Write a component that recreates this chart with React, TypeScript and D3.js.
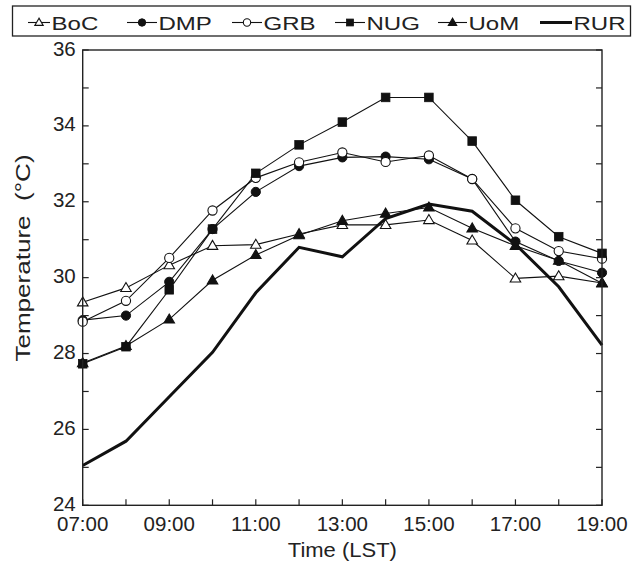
import React from "react";
import * as d3 from "d3";

const hours = [7, 8, 9, 10, 11, 12, 13, 14, 15, 16, 17, 18, 19];
const xTickLabels = ["07:00", "09:00", "11:00", "13:00", "15:00", "17:00", "19:00"];
const yTicks = [24, 26, 28, 30, 32, 34, 36];

const BoC = [29.35, 29.73, 30.33, 30.84, 30.87, 31.15, 31.39, 31.39, 31.52, 30.98, 29.98, 30.04, 29.86];
const DMP = [28.88, 29.0, 29.89, 31.28, 32.26, 32.94, 33.17, 33.19, 33.12, 32.6, 30.95, 30.44, 30.13];
const GRB = [28.84, 29.39, 30.52, 31.77, 32.63, 33.04, 33.3, 33.05, 33.22, 32.6, 31.3, 30.7, 30.5];
const NUG = [27.73, 28.18, 29.68, 31.28, 32.75, 33.5, 34.1, 34.75, 34.75, 33.6, 32.04, 31.08, 30.64];
const UoM = [27.75, 28.2, 28.9, 29.93, 30.6, 31.12, 31.5, 31.69, 31.85, 31.3, 30.84, 30.45, 29.85];
const RUR = [25.05, 25.69, 26.86, 28.03, 29.6, 30.8, 30.55, 31.56, 31.94, 31.75, 30.88, 29.76, 28.22];

type Marker = "triOpen" | "circleFilled" | "circleOpen" | "squareFilled" | "triFilled" | "none";

const seriesList: { name: string; values: number[]; marker: Marker; width: number }[] = [
  { name: "RUR", values: RUR, marker: "none", width: 3 },
  { name: "BoC", values: BoC, marker: "triOpen", width: 1.1 },
  { name: "UoM", values: UoM, marker: "triFilled", width: 1.1 },
  { name: "DMP", values: DMP, marker: "circleFilled", width: 1.1 },
  { name: "GRB", values: GRB, marker: "circleOpen", width: 1.1 },
  { name: "NUG", values: NUG, marker: "squareFilled", width: 1.1 },
];

const legendOrder: { name: string; marker: Marker; x: number; len: number }[] = [
  { name: "BoC", marker: "triOpen", x: 28, len: 22 },
  { name: "DMP", marker: "circleFilled", x: 127, len: 30 },
  { name: "GRB", marker: "circleOpen", x: 232, len: 30 },
  { name: "NUG", marker: "squareFilled", x: 335, len: 30 },
  { name: "UoM", marker: "triFilled", x: 438, len: 29 },
  { name: "RUR", marker: "none", x: 540, len: 32 },
];

const FONT = "'Liberation Sans', Arial, Helvetica, sans-serif";

function MarkerShape({ type, cx, cy, scale = 1 }: { type: Marker; cx: number; cy: number; scale?: number }) {
  const s = scale;
  switch (type) {
    case "triOpen":
    case "triFilled": {
      const h = 9 * s;
      const w = 10.5 * s;
      const pts = `${cx},${cy - h * 0.6} ${cx - w / 2},${cy + h * 0.4} ${cx + w / 2},${cy + h * 0.4}`;
      return (
        <polygon
          points={pts}
          fill={type === "triOpen" ? "#fff" : "#111"}
          stroke="#111"
          strokeWidth={1.1}
        />
      );
    }
    case "circleFilled":
      return <circle cx={cx} cy={cy} r={4.6 * s} fill="#111" stroke="#111" strokeWidth={1} />;
    case "circleOpen":
      return <circle cx={cx} cy={cy} r={4.6 * s} fill="#fff" stroke="#111" strokeWidth={1.1} />;
    case "squareFilled":
      return (
        <rect x={cx - 4.3 * s} y={cy - 4.3 * s} width={8.6 * s} height={8.6 * s} fill="#111" stroke="#111" strokeWidth={0.8} />
      );
    default:
      return null;
  }
}

export default function App() {
  const W = 642;
  const H = 566;
  const left = 82.7;
  const right = 602;
  const top = 50;
  const bottom = 505.3;

  const x = d3.scaleLinear().domain([7, 19]).range([left, right]);
  const y = d3.scaleLinear().domain([24, 36]).range([bottom, top]);
  const line = d3
    .line<number>()
    .x((_, i) => x(hours[i]))
    .y((d) => y(d));

  const minorY = d3.range(24, 37, 1);

  return (
    <svg
      width={W}
      height={H}
      style={{ position: "absolute", left: 0, top: 0, background: "#fff" }}
      fontFamily={FONT}
    >
      <rect x={0} y={0} width={W} height={H} fill="#fff" />
      {/* legend box */}
      <rect x={12.5} y={6} width={618} height={30} fill="#fff" stroke="#222" strokeWidth={1.3} />
      {legendOrder.map((l) => {
        const cy = 22.5;
        const tx = l.x + l.len + 1.5;
        return (
          <g key={l.name}>
            <line x1={l.x} x2={l.x + l.len} y1={cy} y2={cy} stroke="#111" strokeWidth={l.marker === "none" ? 3 : 1.1} />
            <MarkerShape type={l.marker} cx={l.x + l.len / 2} cy={cy} scale={0.8} />
            <text
              transform={`translate(${tx}, 30) scale(1.3, 1)`}
              fontSize={18.5}
              fill="#222"
            >
              {l.name}
            </text>
          </g>
        );
      })}

      {/* series */}
      {seriesList.map((s) => (
        <path key={s.name} d={line(s.values) || ""} fill="none" stroke="#111" strokeWidth={s.width} strokeLinejoin="miter" />
      ))}
      {seriesList
        .filter((s) => s.marker !== "none")
        .map((s) =>
          s.values.map((v, i) => <MarkerShape key={s.name + i} type={s.marker} cx={x(hours[i])} cy={y(v)} />)
        )}

      {/* frame */}
      <rect x={left} y={top} width={right - left} height={bottom - top} fill="none" stroke="#222" strokeWidth={1.4} />
      {/* y ticks left and right (inside) */}
      {minorY.map((t) => (
        <g key={"yt" + t}>
          <line x1={left} x2={left + 6} y1={y(t)} y2={y(t)} stroke="#222" strokeWidth={1.2} />
          <line x1={right} x2={right - 6} y1={y(t)} y2={y(t)} stroke="#222" strokeWidth={1.2} />
        </g>
      ))}
      {/* x ticks */}
      {hours.map((h) => (
        <line key={"xt" + h} x1={x(h)} x2={x(h)} y1={bottom} y2={bottom - 6} stroke="#222" strokeWidth={1.2} />
      ))}
      {/* y tick labels */}
      {yTicks.map((t) => (
        <text key={"yl" + t} x={left - 7} y={y(t) + 5.5} fontSize={20.5} textAnchor="end" fill="#222">
          {t}
        </text>
      ))}
      {/* x tick labels */}
      {xTickLabels.map((lab, i) => (
        <text key={"xl" + lab} x={x(7 + i * 2)} y={531} fontSize={20.5} textAnchor="middle" fill="#222">
          {lab}
        </text>
      ))}
      <text
        transform={`translate(${(left + right) / 2}, 557) scale(1.1, 1)`}
        fontSize={20}
        textAnchor="middle"
        fill="#222"
      >
        Time (LST)
      </text>
      <text
        transform={`translate(30, 258) rotate(-90) scale(1.27, 1)`}
        fontSize={20.5}
        textAnchor="middle"
        fill="#222"
        xmlSpace="preserve"
      >
        {"Temperature  (°C)"}
      </text>
    </svg>
  );
}
